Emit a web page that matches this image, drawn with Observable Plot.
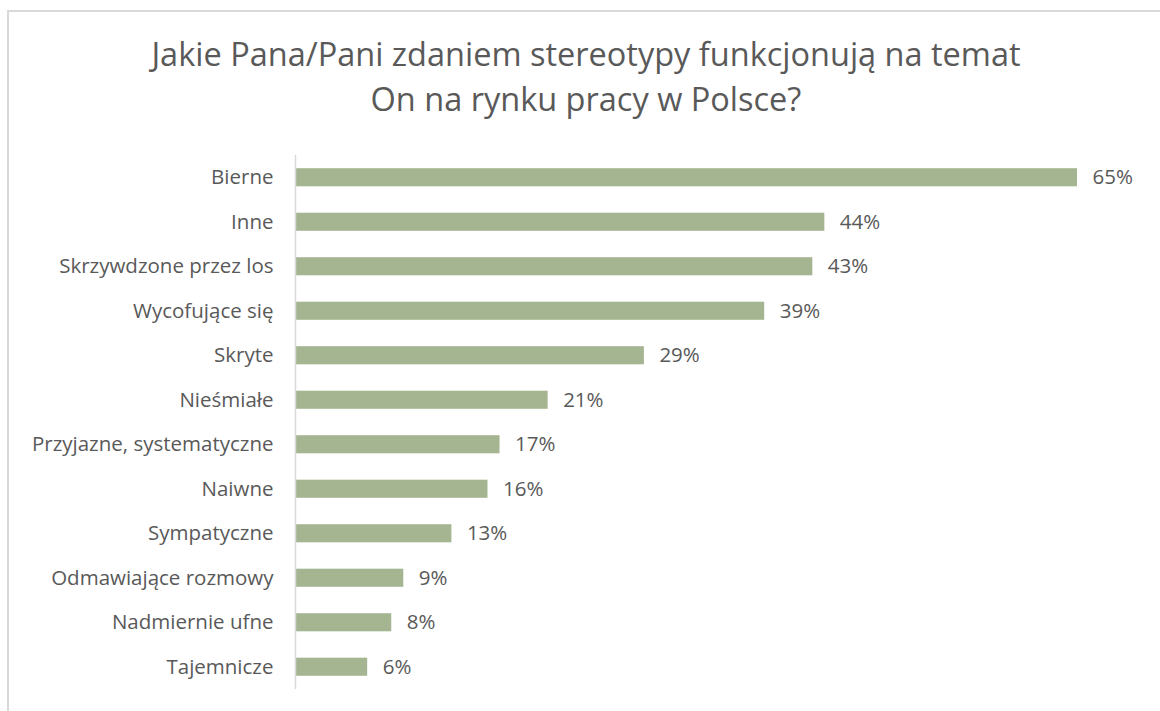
<!DOCTYPE html>
<html>
<head>
<meta charset="utf-8">
<script src="https://cdn.jsdelivr.net/npm/d3@7"></script>
<script src="https://cdn.jsdelivr.net/npm/@observablehq/plot@0.6"></script>
<style>
  html, body { margin: 0; padding: 0; background: #fff; width: 1160px; height: 711px; overflow: hidden; }
  #frame { position: absolute; left: 7px; top: 10px; width: 1200px; height: 800px;
           border-top: 2px solid #d9d9d9; border-left: 2px solid #d9d9d9; box-sizing: border-box; }
  #title { position: absolute; left: 0; width: 1172px; top: 31px; text-align: center;
           font-family: "Open Sans", sans-serif; font-size: 32.5px; line-height: 45px; color: #595959; }
  #chart { position: absolute; left: 0; top: 0; }
</style>
</head>
<body>
<div id="frame"></div>
<div id="title">Jakie Pana/Pani zdaniem stereotypy funkcjonują na temat<br>On na rynku pracy w Polsce?</div>
<div id="chart"></div>
<script>
const categories = ["Bierne", "Inne", "Skrzywdzone przez los", "Wycofujące się", "Skryte", "Nieśmiałe",
  "Przyjazne, systematyczne", "Naiwne", "Sympatyczne", "Odmawiające rozmowy", "Nadmiernie ufne", "Tajemnicze"];
const values = [65, 44, 43, 39, 29, 21, 17, 16, 13, 9, 8, 6];

const data = categories.map((c, i) => ({category: c, value: values[i]}));

const chart = Plot.plot({
  width: 1160,
  height: 711,
  marginTop: 155,
  marginBottom: 22,
  marginLeft: 295,
  marginRight: 83,
  style: {fontFamily: "'Open Sans', sans-serif", fontSize: "20.5px", color: "#595959", background: "transparent"},
  x: {domain: [0, 65], axis: null},
  y: {domain: categories, padding: 0, round: false, label: null, tickSize: 0, tickPadding: 22},
  marks: [
    Plot.barX(data, {x: "value", y: "category", fill: "#a5b592", insetTop: 13.2, insetBottom: 13.2}),
    Plot.ruleX([0], {stroke: "#d9d9d9", strokeWidth: 1.5}),
    Plot.text(data, {x: "value", y: "category", text: d => `${d.value}%`, dx: 15, textAnchor: "start",
                     fill: "#595959", fontSize: 20.5})
  ]
});
document.getElementById("chart").appendChild(chart);
</script>
</body>
</html>
